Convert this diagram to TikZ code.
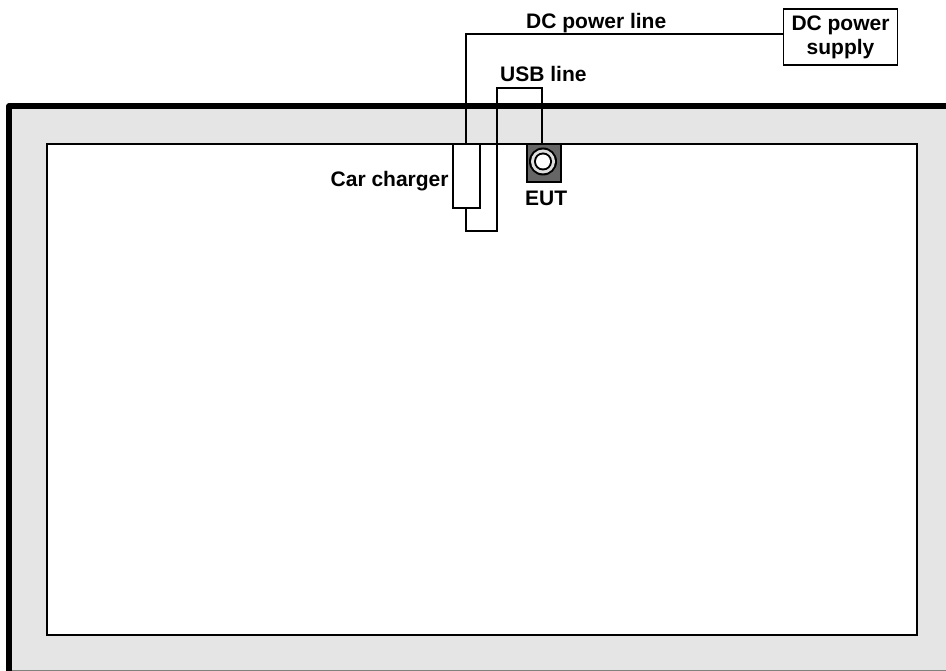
\documentclass[tikz,border=0pt]{standalone}
\usepackage{fontspec}
\setmainfont{Liberation Sans}
\usetikzlibrary{positioning, arrows.meta}

\begin{document}
\begin{tikzpicture}[x=1pt, y=-1pt,
		label text/.style={font=\fontsize{21}{24}\selectfont\bfseries, inner sep=0pt},
		wire/.style={line width=1.5pt, black}]
		\useasboundingbox (0,0) rectangle (946,671);

		\coordinate (frame-bl) at (9,671);
		\coordinate (frame-tl) at (9,106);
		\coordinate (frame-tr) at (946,106);
		\coordinate (frame-br) at (946,670);

		% chamber
		\fill[gray!20] (frame-tl) rectangle (frame-br);
		\draw[gray, line width=1pt] (frame-bl |- frame-br) -- (frame-br);
		\draw[line width=5.5pt, line join=round] (frame-bl) -- (frame-tl) -- (frame-tr);
		\node[draw, fill=white, line width=1.5pt, minimum width=870pt, minimum height=491pt,
			inner sep=0pt] (table) at (482,389.5) {};

		\node[draw, fill=white, line width=1.5pt, minimum width=114pt, minimum height=56pt,
			inner sep=0pt, align=center, label text] (supply) at (840.5,37) {DC power\\supply};

		\node[draw, fill=white, line width=1.5pt, minimum width=27pt, minimum height=64pt,
			inner sep=0pt] (charger) at (466.5,176) {};

		\node[draw, fill=black!60, line width=1.5pt, minimum width=34pt, minimum height=38pt,
			inner sep=0pt] (eut) at (544,163) {};
		\coordinate (eut-in) at (542,144);
		\fill[black] (543,161.5) circle (14pt);
		\fill[gray!25] (543,161.5) circle (12pt);
		\fill[black] (543,161.5) circle (9pt);
		\fill[white] (543,161.5) circle (7pt);

		\coordinate (supply-in) at (supply.west |- 0,34);
		\coordinate (power-corner) at (466,34);
		\coordinate (power-out) at (466,144);
		\coordinate (usb-out) at (466,208);
		\coordinate (usb-a) at (466,231);
		\coordinate (usb-b) at (497,231);
		\coordinate (usb-c) at (497,88);
		\coordinate (usb-d) at (eut-in |- usb-c);

		\draw[wire] (power-out) -- (power-corner) -- (supply-in);
		\draw[wire] (usb-out) -- (usb-a) -- (usb-b) -- (usb-c) -- (usb-d) -- (eut-in);

		\node[label text, anchor=base west] (power-label) at (526,29) {DC power line};
		\node[label text, anchor=base west] (usb-label) at (500,82) {USB line};
		\node[label text, anchor=base west] (charger-label) at (330.5,186.5) {Car charger};
		\node[label text, anchor=base west] (eut-label) at (525,206) {EUT};
	\end{tikzpicture}
\end{document}
